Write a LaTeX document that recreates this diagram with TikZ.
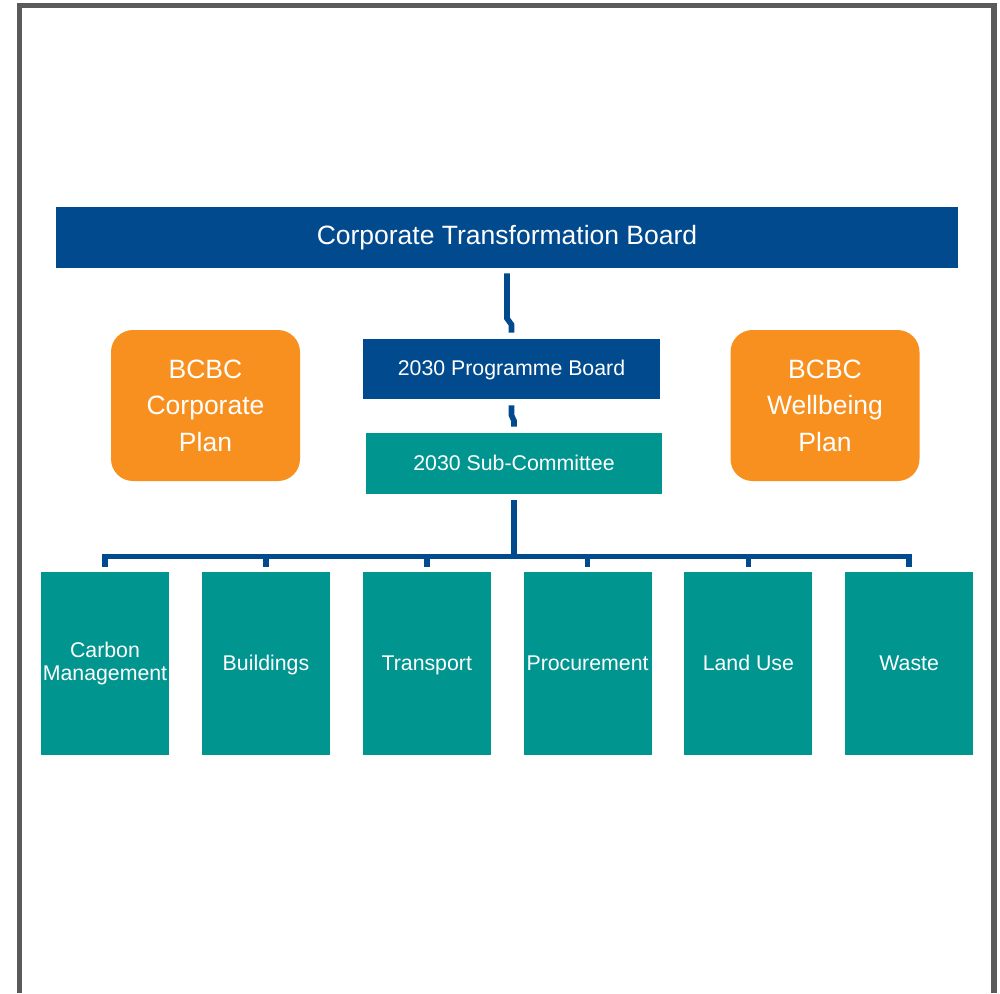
\documentclass[tikz,border=0pt]{standalone}
\usepackage{fontspec}
\setmainfont{Liberation Sans}
\usepackage{xcolor}
\usetikzlibrary{positioning, calc}
\definecolor{boardblue}{RGB}{0,74,141}
\definecolor{subteal}{RGB}{0,149,143}
\definecolor{planorange}{RGB}{247,144,30}
\definecolor{framegrey}{RGB}{90,90,90}
\tikzset{
  bar/.style={rectangle, fill=boardblue, text=white, align=center, inner sep=2pt,
              text height=0.9em, text depth=0.21em,
              font=\fontsize{10.65}{12}\selectfont},
  plan/.style={rectangle, rounded corners=11pt, fill=planorange, text=white, align=center,
               minimum width=94.5pt, minimum height=75.5pt,
               font=\fontsize{13.25}{18.2}\selectfont},
  theme/.style={rectangle, fill=subteal, text=white, align=center, inner sep=1pt, outer sep=0pt,
                minimum width=64pt, minimum height=91.5pt,
                font=\fontsize{10.65}{11.5}\selectfont},
  link/.style={draw=boardblue, line width=2.8pt},
}

\begin{document}
\begin{tikzpicture}[x=0.5pt, y=-0.5pt, node distance=16.4pt]
  \useasboundingbox (0,0) rectangle (1000,993);
  % page frame, open at the bottom
  \draw[framegrey, line width=2.6pt] (19.5,993) -- (19.5,5.5) -- (994,5.5) -- (994,993);

  \node[bar, minimum width=451pt, minimum height=30.5pt,
        font=\fontsize{13.25}{15}\selectfont] (ctb) at (507,237.5) {Corporate Transformation Board};
  \node[bar, minimum width=148.5pt, minimum height=30pt] (prog) at (511.5,369) {2030 Programme Board};
  \node[bar, fill=subteal, minimum width=148pt, minimum height=30.5pt] (sub) at (514,463.5) {2030 Sub-Committee};

  \node[plan] (corp) at (205.5,405.5) {BCBC\\Corporate\\Plan};
  \node[plan] (well) at (825,405.5) {BCBC\\Wellbeing\\Plan};

  % workstreams
  \node[theme] (carbon) at (105,663.5) {Carbon\\Management};
  \node[theme, right=of carbon, text height=0.9em, text depth=0.21em] (build) {Buildings};
  \node[theme, right=of build, text height=0.9em, text depth=0.21em] (trans) {Transport};
  \node[theme, right=of trans, text height=0.9em, text depth=0.21em] (proc) {Procurement};
  \node[theme, right=of proc, text height=0.9em, text depth=0.21em] (land) {Land Use};
  \node[theme, right=of land, text height=0.9em, text depth=0.21em] (waste) {Waste};

  \draw[link, shorten <=2.5pt, shorten >=3pt] (ctb.south) -- ++(0,50) -- ([yshift=7pt]prog.north) -- (prog.north);
  \draw[link, shorten <=3pt, shorten >=3pt] (prog.south) -- ++(0,16) -- ([yshift=6pt]sub.north) -- (sub.north);

  \draw[link, shorten <=3pt] (sub.south) -- ++(0,62) coordinate (bus);
  \draw[link, shorten <=2.5pt, shorten >=2.5pt] (carbon.north) -- (carbon.north |- bus)
    -- (waste.north |- bus) -- (waste.north);
  \foreach \t in {build, trans, proc, land}
    \draw[link, shorten >=2.5pt] (\t.north |- bus) -- (\t.north);
\end{tikzpicture}
\end{document}
